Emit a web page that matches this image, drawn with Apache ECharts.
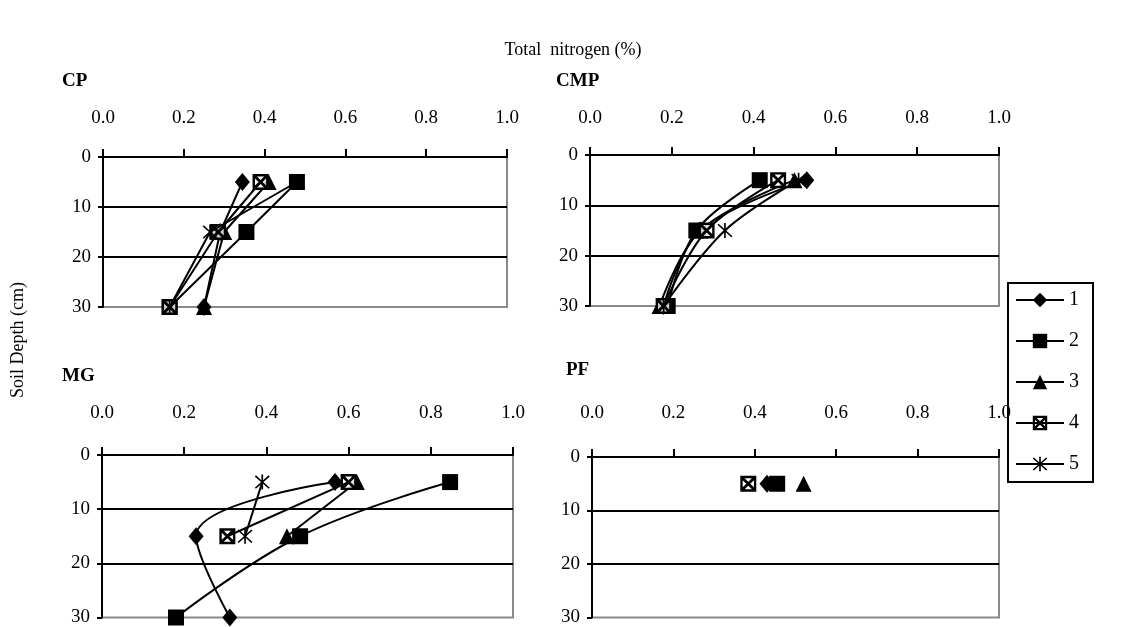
<!DOCTYPE html>
<html>
<head>
<meta charset="utf-8">
<script src="https://cdn.jsdelivr.net/npm/echarts@6/dist/echarts.min.js"></script>
<style>html,body{margin:0;padding:0;background:#fff}#c{width:1146px;height:627px}</style>
</head>
<body>
<div id="c"></div>
<script>
// Depths (cm) of the three sampling layers
const depths = [5, 15, 30];
const seriesNames = ['1', '2', '3', '4', '5'];
const xTickValues = [0, 0.2, 0.4, 0.6, 0.8, 1.0];
const yTickValues = [0, 10, 20, 30];

// Total nitrogen (%) per panel & series, by depth (null = no data)
const cp1 = [0.345, 0.29, 0.25];
const cp2 = [0.48, 0.355, 0.165];
const cp3 = [0.41, 0.30, 0.25];
const cp4 = [0.39, 0.285, 0.165];
const cp5 = [0.48, 0.265, 0.165];

const cmp1 = [0.53, 0.27, 0.18];
const cmp2 = [0.415, 0.26, 0.19];
const cmp3 = [0.50, 0.27, 0.17];
const cmp4 = [0.46, 0.285, 0.18];
const cmp5 = [0.51, 0.33, 0.18];

const mg1 = [0.567, 0.229, 0.311];
const mg2 = [0.847, 0.482, 0.18];
const mg3 = [0.62, 0.45, null];
const mg4 = [0.60, 0.305, null];
const mg5 = [0.39, 0.348, null];

const pf1 = [0.43, null, null];
const pf2 = [0.455, null, null];
const pf3 = [0.52, null, null];
const pf4 = [0.384, null, null];
const pf5 = [0.455, null, null];

const FONT = "'Liberation Serif','Times New Roman',serif";

const crossedSquare = 'path://M0 0L20 0L20 20L0 20Z M3 3L3 17L17 17L17 3Z M3 3L5.5 3L17 14.5L17 17L14.5 17L3 5.5Z M17 3L17 5.5L5.5 17L3 17L3 14.5L14.5 3Z';
const asterisk = 'path://M9 0L11 0L11 20L9 20Z M1 2.4L2.4 1L19 17.6L17.6 19Z M17.6 1L19 2.4L2.4 19L1 17.6Z';
const symbols = [
  {symbol: 'diamond', size: [15, 18]},
  {symbol: 'rect', size: 16},
  {symbol: 'triangle', size: 16},
  {symbol: crossedSquare, size: 16},
  {symbol: asterisk, size: 15}
];

const panels = [
  {name: 'CP', data: [cp1, cp2, cp3, cp4, cp5], smooth: false,
   grid: {left: 103, top: 157, width: 404, height: 150}, margin: 29, title: [62, 83]},
  {name: 'CMP', data: [cmp1, cmp2, cmp3, cmp4, cmp5], smooth: 0.35,
   grid: {left: 590, top: 155, width: 409, height: 151}, margin: 27, title: [556, 83]},
  {name: 'MG', data: [mg1, mg2, mg3, mg4, mg5], smooth: 0.4,
   grid: {left: 102, top: 455, width: 411, height: 163}, margin: 32, title: [62, 378]},
  {name: 'PF', data: [pf1, pf2, pf3, pf4, pf5], smooth: false,
   grid: {left: 592, top: 457, width: 407, height: 165}, margin: 34, title: [566, 372]}
];

const grids = [], xAxes = [], yAxes = [], series = [], graphics = [];
panels.forEach((p, gi) => {
  grids.push(Object.assign({show: true, borderColor: '#8a8a8a', borderWidth: 2, backgroundColor: 'transparent'}, p.grid));
  xAxes.push({
    type: 'value', gridIndex: gi, position: 'top', min: 0, max: 1, interval: 0.2,
    axisLine: {show: true, onZero: false, lineStyle: {color: '#000', width: 2}},
    axisTick: {show: true, inside: false, length: 8, lineStyle: {color: '#000', width: 2}},
    axisLabel: {margin: p.margin, color: '#000', fontFamily: FONT, fontSize: 19,
      formatter: v => v.toFixed(1)},
    splitLine: {show: false}
  });
  yAxes.push({
    type: 'value', gridIndex: gi, inverse: true, min: 0, max: 30, interval: 10,
    axisLine: {show: true, onZero: false, lineStyle: {color: '#000', width: 2}},
    axisTick: {show: true, length: 5, lineStyle: {color: '#000', width: 2}},
    axisLabel: {margin: 12, color: '#000', fontFamily: FONT, fontSize: 19},
    splitLine: {show: false}
  });
  p.data.forEach((vals, si) => {
    const pts = [];
    vals.forEach((v, i) => { if (v !== null) pts.push([v, depths[i]]); });
    if (si === 3) {
      // white fill behind the crossed-square markers
      series.push({
        name: 'bg4', type: 'scatter', xAxisIndex: gi, yAxisIndex: gi, data: pts,
        symbol: 'rect', symbolSize: 15, itemStyle: {color: '#fff'},
        emphasis: {disabled: true}, silent: true, animation: false, z: 15
      });
    }
    const s = {
      name: seriesNames[si], type: 'line', xAxisIndex: gi, yAxisIndex: gi,
      data: pts, smooth: p.smooth,
      symbol: symbols[si].symbol, symbolSize: symbols[si].size,
      showAllSymbol: true,
      lineStyle: {color: '#000', width: 2},
      itemStyle: {color: '#000'},
      emphasis: {disabled: true},
      animation: false, z: 10 + si * 2
    };
    if (si === 0) {
      s.markLine = {
        silent: true, symbol: 'none', label: {show: false}, animation: false,
        lineStyle: {color: '#000', width: 2, type: 'solid'},
        data: [{yAxis: 10}, {yAxis: 20}]
      };
    }
    series.push(s);
  });
  graphics.push({
    type: 'text', left: p.title[0], top: p.title[1] - 11,
    style: {text: p.name, font: 'bold 19px ' + FONT, fill: '#000'}
  });
});

graphics.push({
  type: 'text', left: 'center', top: 41,
  style: {text: 'Total  nitrogen (%)', font: '18px ' + FONT, fill: '#000'}
});
graphics.push({
  type: 'text', x: 18, y: 340, rotation: Math.PI / 2,
  style: {text: 'Soil Depth (cm)', font: '18px ' + FONT, fill: '#000', align: 'center', verticalAlign: 'middle'}
});

const chart = echarts.init(document.getElementById('c'));
chart.setOption({
  animation: false,
  backgroundColor: '#fff',
  grid: grids, xAxis: xAxes, yAxis: yAxes, series: series,
  graphic: graphics,
  legend: {
    data: seriesNames, orient: 'vertical', left: 1008, top: 283,
    itemWidth: 48, itemHeight: 18, itemGap: 21,
    padding: [7, 14, 8, 7],
    borderColor: '#000', borderWidth: 2,
    lineStyle: {width: 2, color: '#000'},
    textStyle: {color: '#000', fontFamily: FONT, fontSize: 20},
    inactiveColor: '#000', selectedMode: false
  }
});
</script>
</body>
</html>
